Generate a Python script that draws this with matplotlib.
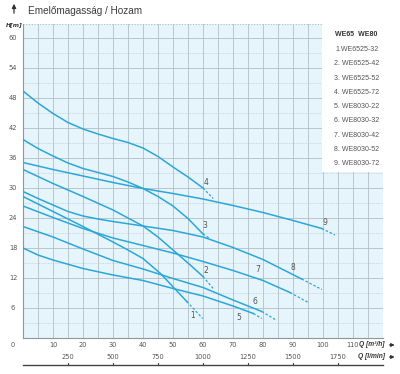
import matplotlib.pyplot as plt
from matplotlib.patches import Rectangle

plt.rcParams['font.family'] = ['DejaVu Sans']

# Q [m3/h] - H [m]
q_1 = [0, 10, 20, 30, 35, 40, 46, 51, 54.6]
h_1 = [28.3, 25.3, 22.3, 19.2, 17.6, 15.9, 12.8, 9.6, 7.3]
q_2 = [0, 10, 20, 30, 40, 45, 50, 55, 60]
h_2 = [33.7, 30.9, 28.3, 25.6, 22.4, 20.2, 17.6, 15.0, 12.3]
q_3 = [0, 5, 10, 15, 20, 25, 30, 35, 40, 45, 50, 55, 60]
h_3 = [39.7, 37.9, 36.4, 35.0, 33.9, 33.1, 32.3, 31.2, 29.9, 28.3, 26.4, 23.9, 20.8]
q_4 = [0, 5, 10, 15, 20, 25, 30, 35, 40, 45, 50, 55, 60]
h_4 = [49.4, 47.0, 44.9, 43.1, 41.8, 40.8, 39.9, 39.1, 38.0, 36.3, 34.2, 32.2, 30.0]
q_5 = [0, 5, 10, 20, 30, 40, 50, 60, 70, 76.8]
h_5 = [18.0, 16.6, 15.6, 13.9, 12.6, 11.5, 9.9, 8.4, 6.4, 4.9]
q_6 = [0, 10, 20, 30, 40, 50, 60, 70, 79.6]
h_6 = [22.3, 20.2, 17.8, 15.5, 13.8, 11.9, 10.1, 7.6, 5.3]
q_7 = [0, 10, 20, 30, 40, 50, 60, 70, 80, 89]
h_7 = [26.4, 24.1, 21.9, 20.0, 18.5, 17.0, 15.3, 13.5, 11.5, 9.1]
q_8 = [0, 5, 10, 15, 20, 25, 30, 40, 50, 60, 70, 80, 92.9]
h_8 = [29.3, 27.9, 26.6, 25.3, 24.4, 23.8, 23.3, 22.4, 21.5, 20.2, 18.1, 15.7, 11.8]
q_9 = [0, 10, 20, 30, 40, 50, 60, 70, 80, 90, 99.6]
h_9 = [35.1, 33.7, 32.4, 31.1, 29.9, 28.9, 27.8, 26.5, 25.1, 23.5, 21.9]

# szaggatott folytatás végpontjai
q_end = [59.9, 63.4, 62.0, 63.4, 79.6, 84.6, 95.1, 99.6, 104.0]
h_end = [3.9, 9.9, 20.0, 27.9, 3.9, 3.5, 7.1, 9.7, 20.6]

# görbe számok helye
num_q = [56.5, 61.0, 60.7, 60.9, 72.0, 77.3, 78.1, 89.9, 100.7]
num_h = [4.6, 13.5, 22.4, 31.1, 4.1, 7.3, 13.6, 14.1, 23.1]

legend_items = ['1.WE6525-32', '2. WE6525-42', '3. WE6525-52', '4. WE6525-72',
                '5. WE8030-22', '6. WE8030-32', '7. WE8030-42', '8. WE8030-52',
                '9. WE8030-72']

lmin_ticks = [250, 500, 750, 1000, 1250, 1500, 1750]

curves = [(q_1, h_1), (q_2, h_2), (q_3, h_3), (q_4, h_4), (q_5, h_5),
          (q_6, h_6), (q_7, h_7), (q_8, h_8), (q_9, h_9)]

blue = '#2aa7d8'
grid_c = '#b3bec5'
txt_c = '#555555'

fig = plt.figure(figsize=(4, 3.74), dpi=100)
ax = fig.add_axes([23/400, 36/374, 360/400, 314/374])
ax.set_xlim(0, 120)
ax.set_ylim(0, 62.8)
ax.set_facecolor('#e6f4fb')

# rács
for x in range(5, 120, 5):
    ax.axvline(x, color=grid_c, lw=0.6, zorder=1)
for y in range(6, 62, 6):
    ax.axhline(y, color=grid_c, lw=0.6, zorder=1)
for y in range(3, 62, 6):
    ax.axhline(y, color=grid_c, lw=0.5, ls=(0, (1, 1.5)), zorder=1)
ax.axhline(62.8, color=grid_c, lw=0.8, ls=(0, (1, 1.5)), zorder=1)

for s in ['top', 'right']:
    ax.spines[s].set_visible(False)
for s in ['left', 'bottom']:
    ax.spines[s].set_color('#8c979e')
    ax.spines[s].set_linewidth(0.8)

# jelmagyarázat doboz
ax.add_patch(Rectangle((99.7, 33.2), 20.3, 29.6, facecolor='white',
                       edgecolor='none', zorder=2))

for i, (q, h) in enumerate(curves):
    ax.plot(q, h, color=blue, lw=1.1, zorder=3, solid_joinstyle='round')
    ax.plot([q[-1], q_end[i]], [h[-1], h_end[i]], color=blue, lw=0.9,
            ls=(0, (2, 1.5)), zorder=3)
    ax.text(num_q[i], num_h[i], str(i + 1), fontsize=5.5, color=txt_c,
            ha='center', va='center', zorder=4)

narrow = ['Liberation Sans Narrow', 'Liberation Sans', 'DejaVu Sans']
ax.text(111.2, 60.6, 'WE65  WE80', fontsize=5, fontweight='bold',
        color='#333333', ha='center', va='center', family=narrow, zorder=4)
for i, s in enumerate(legend_items):
    ax.text(111.2, 57.7 - i * 2.86, s, fontsize=5, color=txt_c, ha='center',
            va='center', family=narrow, zorder=4)

ax.set_xticks([])
ax.set_yticks([])

# tengelyfeliratok
for y in range(6, 61, 6):
    ax.text(-3.3, y, str(y), fontsize=4.8, color=txt_c, ha='center', va='center')
ax.text(-3.3, -1.4, '0', fontsize=4.8, color=txt_c, ha='center', va='center',
        clip_on=False)
for x in range(10, 111, 10):
    ax.text(x, -1.4, str(x), fontsize=4.8, color=txt_c, ha='center', va='center')
ax.text(116.2, -1.4, 'Q [m³/h]', fontsize=4.8, color='#333333', style='italic',
        fontweight='bold', ha='center', va='center', family=narrow)
ax.annotate('', xy=(124.8, -1.4), xytext=(121.2, -1.4), annotation_clip=False,
            arrowprops=dict(arrowstyle='-|>', color='#333333', lw=0.8,
                            mutation_scale=5))

# l/min tengely
for v in lmin_ticks:
    ax.text(v * 0.06, -3.8, str(v), fontsize=4.8, color=txt_c, ha='center',
            va='center')
ax.text(116.2, -3.8, 'Q [l/min]', fontsize=4.8, color='#333333', style='italic',
        fontweight='bold', ha='center', va='center', family=narrow)
ax.annotate('', xy=(124.8, -3.8), xytext=(121.2, -3.8), annotation_clip=False,
            arrowprops=dict(arrowstyle='-|>', color='#333333', lw=0.8,
                            mutation_scale=5))
ax.plot([0, 120], [-5.4, -5.4], color='#444444', lw=1.0, clip_on=False)
for v in lmin_ticks:
    ax.plot([v * 0.06, v * 0.06], [-5.4, -4.9], color='#444444', lw=0.8,
            clip_on=False)

# cím
fig.text(0.07, 0.971, 'Emelőmagasság / Hozam', fontsize=7.2, color='#3c3c3c',
         ha='left', va='center', family=['Liberation Sans', 'DejaVu Sans'])
ax.annotate('', xy=(-3.0, 67.4), xytext=(-3.0, 64.4), annotation_clip=False,
            arrowprops=dict(arrowstyle='-|>', color='#333333', lw=0.9,
                            mutation_scale=6))
ax.text(-3.0, 62.6, 'H[m]', fontsize=4.3, color='#333333', style='italic',
        fontweight='bold', ha='center', va='center')

fig.savefig('out.png', dpi=100)
